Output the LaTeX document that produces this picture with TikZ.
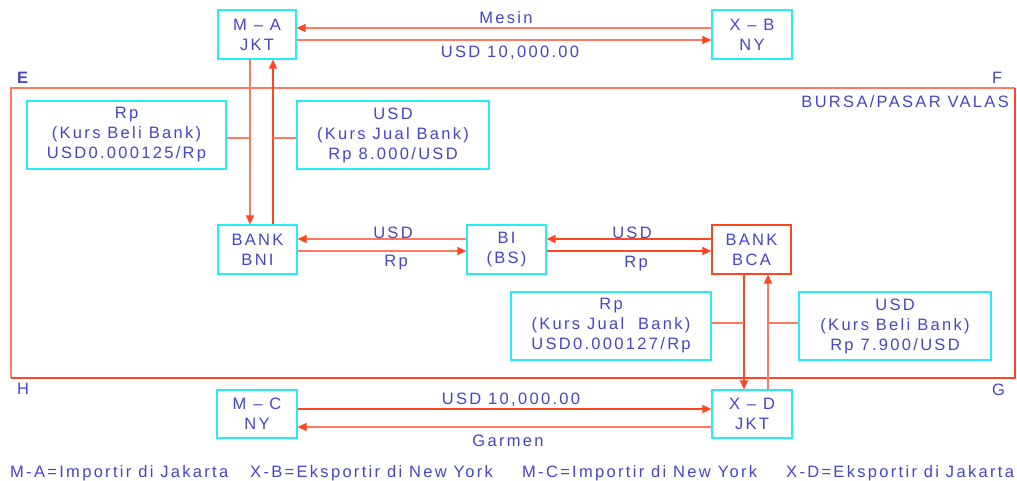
\documentclass[tikz,border=0pt]{standalone}
\usepackage{fontspec}
\setmainfont{Liberation Sans}[LetterSpace=14]
\usetikzlibrary{arrows.meta,calc}
\definecolor{txtblue}{RGB}{68,68,204}
\definecolor{boxcyan}{RGB}{40,235,250}
\definecolor{lnsalmon}{RGB}{255,120,95}
\definecolor{lnred}{RGB}{255,70,35}
\begin{document}
\begin{tikzpicture}[x=1pt,y=-1pt,
  every node/.style={text=txtblue,font=\fontsize{16.5}{20}\selectfont,inner sep=0pt},
  cbox/.style={draw=boxcyan,line width=1.2pt,align=center,minimum width=#1,minimum height=49},
  cbox/.default=79,
  infobox/.style={draw=boxcyan,line width=1.2pt,align=center,minimum width=#1,minimum height=68},
  arr/.style={draw=lnsalmon,line width=1.2pt,-{Triangle[length=9pt,width=8pt,color=lnred]}},
  plain/.style={draw=lnsalmon,line width=1.2pt},
  lbl/.style={anchor=base}
]
\useasboundingbox (0,0) rectangle (1017,481);

% market frame
\draw[lnsalmon,line width=1.3pt] (11,378) -- (11,88) -- (1015,88);
\draw[lnred,line width=1.3pt] (1015,88) -- (1015,378) -- (11,378);
\node[lbl,anchor=base west,font=\fontsize{16.5}{20}\selectfont\bfseries] (E) at (17,84) {E};
\node[lbl,anchor=base west] (F) at (992,84) {F};
\node[lbl,anchor=base west] (H) at (17,394) {H};
\node[lbl,anchor=base west] (G) at (992,395) {G};
\node[lbl,anchor=base east] (bursa) at (1009,108) {BURSA/PASAR VALAS};

% boxes
\node[cbox=78] (MA) at (257,34.5) {M -- A\\JKT};
\node[cbox=80] (XB) at (752,34.5) {X -- B\\NY};
\node[cbox] (BNI) at (257.5,249.5) {BANK\\BNI};
\node[cbox] (BI) at (506.5,249.5) {BI\\(BS)};
\node[draw=lnred,line width=1.2pt,align=center,minimum width=79,minimum height=49] (BCA) at (751.5,249.5) {BANK\\BCA};
\node[cbox=80,minimum height=48] (MC) at (257,414) {M -- C\\NY};
\node[cbox=80,minimum height=48] (XD) at (752,414) {X -- D\\JKT};

\node[infobox=199] (RpL) at (126.5,135) {Rp\\(Kurs Beli Bank)\\USD0.000125/Rp};
\node[infobox=192] (USDL) at (393,135) {USD\\(Kurs Jual Bank)\\Rp 8.000/USD};
\node[infobox=200] (RpR) at (611,326) {Rp\\(Kurs Jual\ \ Bank)\\USD0.000127/Rp};
\node[infobox=192] (USDR) at (895,326) {USD\\(Kurs Beli Bank)\\Rp 7.900/USD};

% top trade
\draw[arr] ([yshift=6.5pt]XB.west) -- ([yshift=6.5pt]MA.east);
\draw[arr] ([yshift=-5.5pt]MA.east) -- ([yshift=-5.5pt]XB.west);
\node[lbl] (mesin) at (506,24) {Mesin};
\node[lbl] (usdtop) at (510,58) {USD 10,000.00};

% M-A <-> BNI
\coordinate (dA) at (250,138);
\coordinate (uA) at (273,138);
\draw[arr] (MA.south -| dA) -- (BNI.north -| dA);
\draw[arr,draw=lnred] (BNI.north -| uA) -- (MA.south -| uA);
\draw[plain] (RpL.east |- dA) -- (dA);
\draw[plain] (USDL.west |- uA) -- (uA);

% BNI <-> BI <-> BCA
\draw[arr] ([yshift=10.5pt]BI.west) -- ([yshift=10.5pt]BNI.east);
\draw[arr] ([yshift=-1.5pt]BNI.east) -- ([yshift=-1.5pt]BI.west);
\draw[arr,draw=lnred] ([yshift=10.5pt]BCA.west) -- ([yshift=10.5pt]BI.east);
\draw[arr,draw=lnred] ([yshift=-1.5pt]BI.east) -- ([yshift=-1.5pt]BCA.west);
\node[lbl] (u1) at (393,238) {USD};
\node[lbl] (r1) at (396,266) {Rp};
\node[lbl] (u2) at (632,238) {USD};
\node[lbl] (r2) at (636,267) {Rp};

% BCA <-> X-D
\coordinate (dB) at (744,323);
\coordinate (uB) at (768,323);
\draw[arr,draw=lnred] (BCA.south -| dB) -- (XD.north -| dB);
\draw[arr] (XD.north -| uB) -- (BCA.south -| uB);
\draw[plain] (RpR.east |- dB) -- (dB);
\draw[plain] (USDR.west |- uB) -- (uB);

% bottom trade
\draw[arr,draw=lnred] ([yshift=5pt]MC.east) -- ([yshift=5pt]XD.west);
\draw[arr] ([yshift=-13pt]XD.west) -- ([yshift=-13pt]MC.east);
\node[lbl] (usdbot) at (511,404) {USD 10,000.00};
\node[lbl] (garmen) at (508,446) {Garmen};

% legend
\node[lbl,anchor=base west] (l1) at (10,477) {M-A=Importir di Jakarta};
\node[lbl,anchor=base west] (l2) at (250,477) {X-B=Eksportir di New York};
\node[lbl,anchor=base west] (l3) at (522,477) {M-C=Importir di New York};
\node[lbl,anchor=base west] (l4) at (786,477) {X-D=Eksportir di Jakarta};
\end{tikzpicture}
\end{document}
